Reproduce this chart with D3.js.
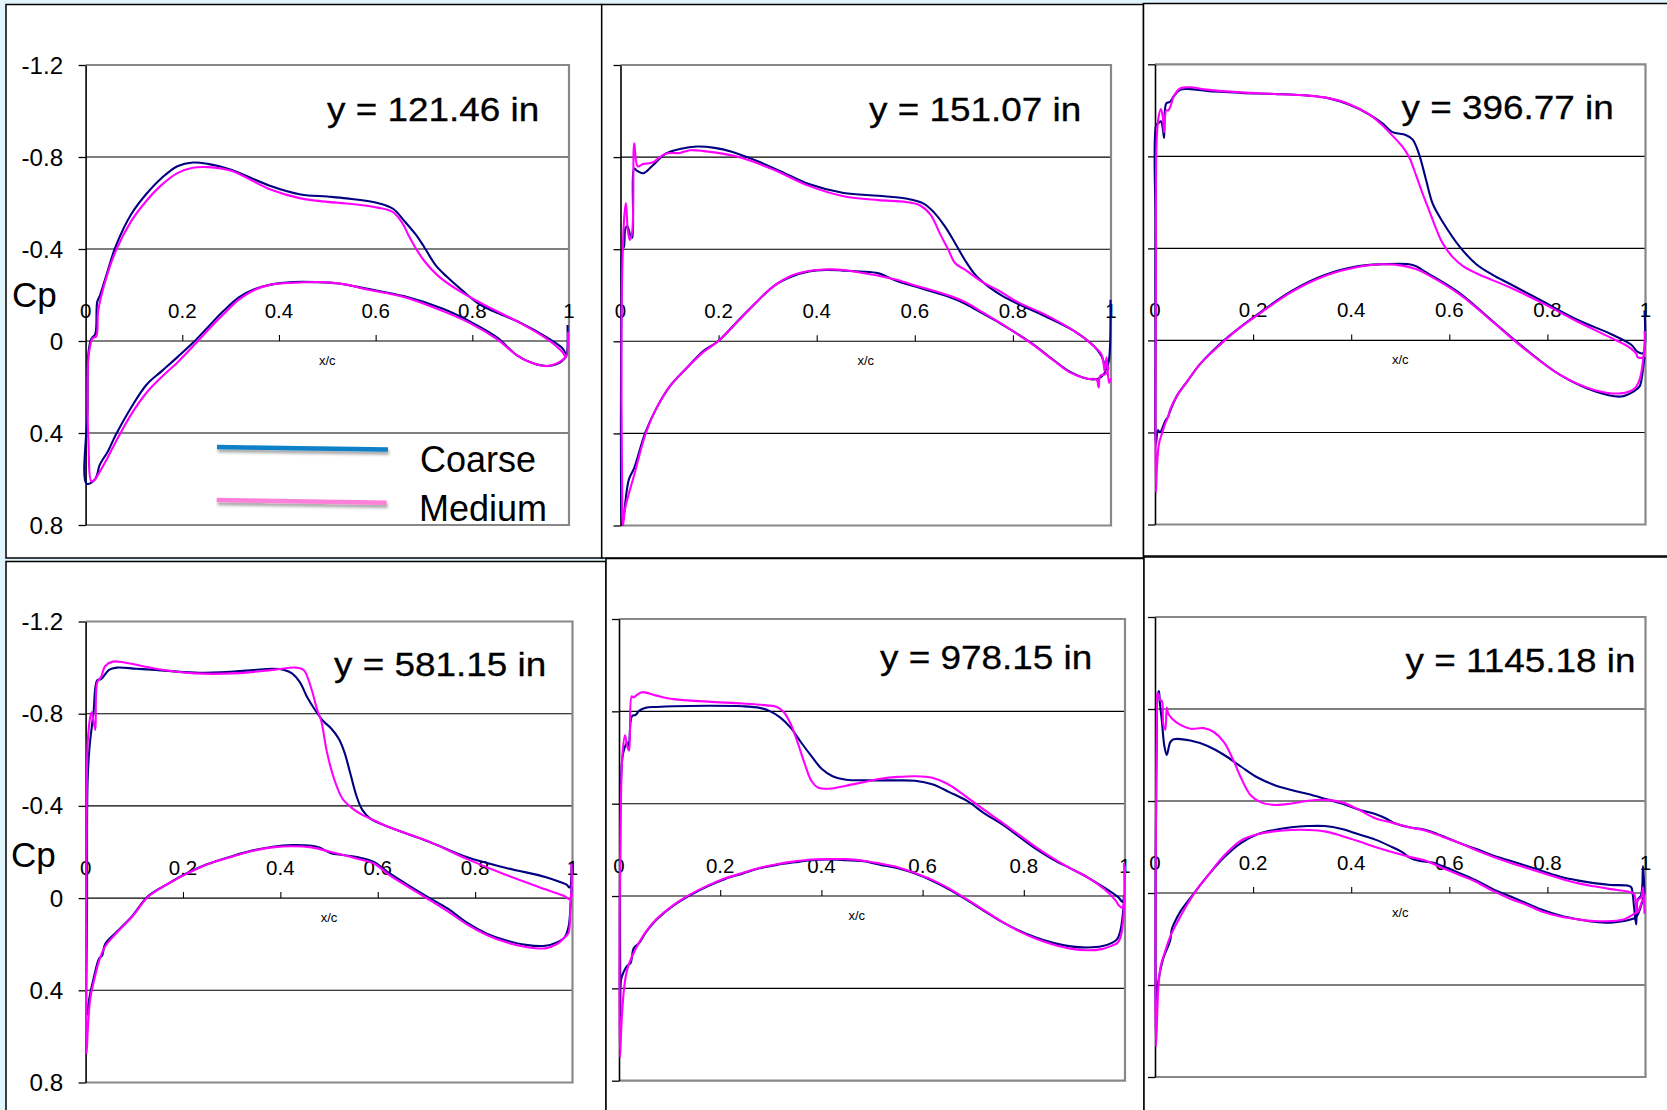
<!DOCTYPE html>
<html><head><meta charset="utf-8">
<script src="https://cdn.jsdelivr.net/npm/d3@7"></script>
<style>
html,body{margin:0;padding:0;background:#e1f4fb;overflow:hidden;}
svg{display:block;}
</style></head><body>
<svg id="chart" width="1667" height="1110"></svg>
<script>
// ---------- DATA ----------
const spanLabels = ["y = 121.46 in","y = 151.07 in","y = 396.77 in","y = 581.15 in","y = 978.15 in","y = 1145.18 in"];
const seriesNames = ["Coarse","Medium"];
const yTickValues = [-1.2,-0.8,-0.4,0,0.4,0.8];
const yTickLabels = ["-1.2","-0.8","-0.4","0","0.4","0.8"];
const xTickValues = [0,0.2,0.4,0.6,0.8,1];
const xTickLabels = ["0","0.2","0.4","0.6","0.8","1"];
const xAxisTitle = "x/c";
const yAxisTitle = "Cp";

// [x/c, Cp] pairs, each surface listed from leading edge to trailing edge
const p1CoarseUpper = [[0.002,0.62],[0.004,0.3],[0.006,0.05],[0.012,-0.01],[0.02,-0.03],[0.024,-0.17],[0.03,-0.2],[0.045,-0.3],[0.062,-0.41],[0.094,-0.55],[0.126,-0.64],[0.158,-0.71],[0.19,-0.76],[0.222,-0.776],[0.253,-0.77],[0.301,-0.745],[0.381,-0.675],[0.445,-0.637],[0.5,-0.628],[0.54,-0.62],[0.604,-0.6],[0.636,-0.575],[0.66,-0.52],[0.684,-0.46],[0.7,-0.41],[0.724,-0.33],[0.747,-0.28],[0.779,-0.22],[0.811,-0.165],[0.843,-0.13],[0.899,-0.08],[0.955,-0.015],[0.986,0.03],[0.994,0.054],[0.997,-0.07]];
const p1CoarseLower = [[0.002,0.62],[0.018,0.605],[0.024,0.58],[0.029,0.54],[0.046,0.48],[0.062,0.41],[0.094,0.29],[0.126,0.19],[0.158,0.13],[0.19,0.07],[0.222,0.008],[0.253,-0.06],[0.285,-0.13],[0.317,-0.19],[0.349,-0.225],[0.381,-0.244],[0.429,-0.256],[0.476,-0.256],[0.524,-0.25],[0.58,-0.228],[0.66,-0.194],[0.739,-0.14],[0.795,-0.085],[0.851,-0.016],[0.891,0.06],[0.923,0.095],[0.955,0.109],[0.975,0.1],[0.99,0.078],[0.996,0.054]];
const p1MediumUpper = [[0.012,0.61],[0.006,0.45],[0.004,0.2],[0.006,0.07],[0.014,-0.01],[0.022,-0.02],[0.026,-0.13],[0.038,-0.24],[0.062,-0.39],[0.094,-0.52],[0.126,-0.61],[0.158,-0.68],[0.19,-0.73],[0.222,-0.753],[0.253,-0.756],[0.301,-0.74],[0.381,-0.66],[0.445,-0.62],[0.5,-0.605],[0.54,-0.598],[0.604,-0.58],[0.636,-0.56],[0.656,-0.51],[0.668,-0.46],[0.684,-0.4],[0.7,-0.35],[0.731,-0.28],[0.779,-0.21],[0.827,-0.155],[0.899,-0.078],[0.955,-0.008],[0.986,0.047],[0.994,0.07],[0.998,-0.04]];
const p1MediumLower = [[0.012,0.61],[0.02,0.6],[0.026,0.58],[0.046,0.505],[0.062,0.44],[0.094,0.32],[0.126,0.225],[0.158,0.155],[0.19,0.093],[0.222,0.023],[0.253,-0.047],[0.285,-0.116],[0.317,-0.18],[0.349,-0.222],[0.381,-0.244],[0.429,-0.253],[0.492,-0.256],[0.54,-0.245],[0.58,-0.225],[0.66,-0.19],[0.739,-0.13],[0.795,-0.078],[0.851,-0.008],[0.891,0.06],[0.923,0.095],[0.955,0.109],[0.979,0.093],[0.994,0.07]];

const p2CoarseUpper = [[0.003,0.8],[0.001,0.6],[0.001,0.2],[0.002,-0.2],[0.004,-0.4],[0.007,-0.41],[0.01,-0.49],[0.014,-0.5],[0.02,-0.46],[0.024,-0.45],[0.028,-0.75],[0.034,-0.74],[0.046,-0.73],[0.064,-0.76],[0.092,-0.815],[0.121,-0.835],[0.156,-0.846],[0.192,-0.84],[0.227,-0.823],[0.277,-0.784],[0.327,-0.738],[0.384,-0.683],[0.455,-0.644],[0.526,-0.632],[0.582,-0.62],[0.618,-0.598],[0.639,-0.56],[0.661,-0.5],[0.682,-0.427],[0.703,-0.35],[0.724,-0.287],[0.753,-0.233],[0.781,-0.194],[0.81,-0.163],[0.866,-0.109],[0.923,-0.047],[0.966,0.023],[0.98,0.062],[0.991,0.116],[0.996,0.08],[0.999,-0.18]];
const p2CoarseLower = [[0.003,0.8],[0.007,0.75],[0.017,0.6],[0.028,0.55],[0.05,0.4],[0.071,0.3],[0.099,0.2],[0.135,0.116],[0.17,0.04],[0.199,0.0],[0.241,-0.093],[0.277,-0.17],[0.3125,-0.24],[0.348,-0.28],[0.384,-0.303],[0.419,-0.31],[0.455,-0.307],[0.49,-0.303],[0.526,-0.295],[0.561,-0.264],[0.597,-0.24],[0.668,-0.194],[0.703,-0.163],[0.739,-0.12],[0.774,-0.078],[0.81,-0.031],[0.838,0.008],[0.881,0.078],[0.916,0.132],[0.952,0.163],[0.973,0.163],[0.984,0.147],[0.991,0.116]];
const p2MediumUpper = [[0.005,0.8],[0.003,0.55],[0.002,0.0],[0.004,-0.35],[0.008,-0.55],[0.011,-0.6],[0.015,-0.48],[0.019,-0.44],[0.024,-0.48],[0.028,-0.86],[0.035,-0.76],[0.046,-0.77],[0.064,-0.775],[0.092,-0.815],[0.121,-0.818],[0.142,-0.83],[0.17,-0.826],[0.241,-0.8],[0.3125,-0.745],[0.384,-0.675],[0.455,-0.63],[0.526,-0.613],[0.582,-0.605],[0.611,-0.59],[0.632,-0.55],[0.653,-0.46],[0.668,-0.4],[0.682,-0.34],[0.703,-0.31],[0.739,-0.256],[0.774,-0.217],[0.81,-0.17],[0.866,-0.116],[0.923,-0.047],[0.966,0.023],[0.98,0.055],[0.984,0.085],[0.987,0.13],[0.991,0.07],[0.996,0.18],[1.0,0.16]];
const p2MediumLower = [[0.005,0.8],[0.01,0.72],[0.028,0.58],[0.05,0.41],[0.071,0.3],[0.099,0.2],[0.135,0.116],[0.17,0.045],[0.199,0.0],[0.241,-0.09],[0.277,-0.17],[0.3125,-0.24],[0.348,-0.285],[0.384,-0.305],[0.419,-0.312],[0.455,-0.31],[0.49,-0.298],[0.526,-0.285],[0.561,-0.268],[0.597,-0.245],[0.668,-0.2],[0.703,-0.17],[0.739,-0.125],[0.774,-0.08],[0.81,-0.03],[0.838,0.01],[0.881,0.08],[0.916,0.135],[0.952,0.163],[0.97,0.165],[0.975,0.2],[0.978,0.15],[0.991,0.14],[0.995,0.11]];

const p3CoarseUpper = [[0.002,0.45],[0.001,0.0],[0.001,-0.5],[0.003,-0.94],[0.007,-0.944],[0.012,-0.952],[0.016,-0.92],[0.0185,-0.88],[0.023,-1.03],[0.031,-1.037],[0.038,-1.06],[0.051,-1.089],[0.072,-1.092],[0.106,-1.084],[0.175,-1.076],[0.243,-1.071],[0.312,-1.064],[0.353,-1.053],[0.394,-1.026],[0.436,-0.983],[0.463,-0.944],[0.484,-0.905],[0.511,-0.893],[0.525,-0.874],[0.538,-0.812],[0.552,-0.703],[0.566,-0.595],[0.586,-0.517],[0.621,-0.408],[0.655,-0.331],[0.689,-0.284],[0.724,-0.245],[0.792,-0.168],[0.861,-0.09],[0.929,-0.028],[0.971,0.019],[0.984,0.05],[0.995,0.055],[0.998,-0.13]];
const p3CoarseLower = [[0.002,0.45],[0.006,0.39],[0.01,0.4],[0.021,0.35],[0.027,0.33],[0.031,0.306],[0.045,0.24],[0.065,0.18],[0.093,0.1],[0.127,0.026],[0.161,-0.036],[0.209,-0.113],[0.278,-0.214],[0.346,-0.284],[0.415,-0.323],[0.463,-0.331],[0.518,-0.331],[0.532,-0.323],[0.552,-0.297],[0.621,-0.206],[0.689,-0.082],[0.758,0.042],[0.826,0.15],[0.895,0.22],[0.95,0.244],[0.977,0.22],[0.988,0.2],[0.991,0.18],[0.998,0.07]];
const p3MediumUpper = [[0.002,0.66],[0.001,0.3],[0.002,-0.3],[0.003,-0.85],[0.007,-0.967],[0.012,-1.006],[0.016,-0.97],[0.0185,-0.905],[0.023,-1.0],[0.027,-1.0],[0.032,-1.02],[0.038,-1.06],[0.051,-1.095],[0.072,-1.1],[0.106,-1.09],[0.175,-1.078],[0.243,-1.071],[0.312,-1.064],[0.353,-1.053],[0.394,-1.029],[0.436,-0.983],[0.463,-0.936],[0.484,-0.89],[0.504,-0.843],[0.518,-0.797],[0.532,-0.719],[0.545,-0.641],[0.559,-0.564],[0.573,-0.486],[0.586,-0.424],[0.607,-0.362],[0.628,-0.323],[0.655,-0.292],[0.689,-0.261],[0.724,-0.23],[0.792,-0.16],[0.861,-0.082],[0.929,-0.012],[0.964,0.026],[0.981,0.057],[0.984,0.073],[0.995,0.073],[0.998,-0.04]];
const p3MediumLower = [[0.002,0.66],[0.004,0.55],[0.008,0.45],[0.015,0.4],[0.021,0.36],[0.027,0.33],[0.031,0.3],[0.045,0.24],[0.065,0.18],[0.093,0.1],[0.127,0.03],[0.161,-0.035],[0.209,-0.11],[0.278,-0.21],[0.346,-0.28],[0.415,-0.32],[0.463,-0.331],[0.504,-0.325],[0.532,-0.31],[0.552,-0.29],[0.621,-0.2],[0.689,-0.08],[0.758,0.045],[0.826,0.15],[0.895,0.215],[0.95,0.23],[0.977,0.21],[0.988,0.17],[0.996,0.07],[0.999,-0.04]];

const p4CoarseUpper = [[0.003,0.507],[0.003,0.0],[0.004,-0.5],[0.008,-0.653],[0.016,-0.8],[0.024,-0.945],[0.032,-0.95],[0.048,-0.99],[0.064,-1.0],[0.104,-0.995],[0.144,-0.99],[0.224,-0.978],[0.304,-0.983],[0.344,-0.989],[0.384,-0.995],[0.408,-0.99],[0.424,-0.975],[0.44,-0.937],[0.456,-0.868],[0.472,-0.814],[0.488,-0.768],[0.504,-0.737],[0.52,-0.691],[0.532,-0.63],[0.544,-0.538],[0.556,-0.445],[0.568,-0.384],[0.584,-0.346],[0.624,-0.307],[0.704,-0.246],[0.784,-0.177],[0.864,-0.131],[0.944,-0.092],[0.976,-0.069],[0.988,-0.058],[0.994,-0.046],[0.998,-0.154]];
const p4CoarseLower = [[0.003,0.507],[0.008,0.43],[0.016,0.353],[0.028,0.261],[0.034,0.25],[0.04,0.2],[0.064,0.146],[0.096,0.077],[0.128,-0.008],[0.168,-0.061],[0.208,-0.108],[0.248,-0.146],[0.304,-0.184],[0.344,-0.207],[0.384,-0.223],[0.424,-0.23],[0.464,-0.227],[0.48,-0.22],[0.504,-0.195],[0.528,-0.187],[0.56,-0.177],[0.592,-0.157],[0.624,-0.108],[0.664,-0.054],[0.704,-0.003],[0.744,0.046],[0.784,0.108],[0.824,0.154],[0.864,0.184],[0.904,0.203],[0.944,0.207],[0.968,0.192],[0.984,0.169],[0.992,0.123],[0.996,0.03],[0.998,-0.05]];
const p4MediumUpper = [[0.002,0.676],[0.001,0.3],[0.002,-0.3],[0.005,-0.7],[0.012,-0.806],[0.016,-0.77],[0.02,-0.73],[0.024,-0.937],[0.032,-0.96],[0.04,-1.006],[0.056,-1.026],[0.08,-1.022],[0.144,-0.995],[0.224,-0.975],[0.304,-0.975],[0.384,-0.99],[0.432,-1.0],[0.448,-0.99],[0.464,-0.906],[0.476,-0.814],[0.484,-0.768],[0.496,-0.63],[0.512,-0.507],[0.528,-0.43],[0.544,-0.396],[0.568,-0.361],[0.592,-0.338],[0.624,-0.307],[0.704,-0.246],[0.784,-0.169],[0.864,-0.1],[0.944,-0.038],[0.984,-0.008],[0.994,0.005],[0.998,-0.15]];
const p4MediumLower = [[0.002,0.676],[0.005,0.55],[0.01,0.43],[0.016,0.37],[0.028,0.27],[0.04,0.21],[0.064,0.15],[0.096,0.08],[0.128,-0.005],[0.168,-0.06],[0.208,-0.106],[0.248,-0.145],[0.304,-0.182],[0.344,-0.205],[0.384,-0.22],[0.424,-0.225],[0.464,-0.22],[0.504,-0.2],[0.56,-0.17],[0.592,-0.15],[0.624,-0.1],[0.664,-0.047],[0.704,0.005],[0.744,0.058],[0.784,0.115],[0.824,0.16],[0.864,0.192],[0.904,0.212],[0.944,0.218],[0.968,0.2],[0.984,0.17],[0.992,0.15],[0.996,0.02],[0.999,-0.02]];

const p5CoarseUpper = [[0.003,0.533],[0.002,0.0],[0.004,-0.5],[0.007,-0.604],[0.011,-0.642],[0.016,-0.665],[0.019,-0.65],[0.023,-0.757],[0.026,-0.78],[0.033,-0.785],[0.04,-0.803],[0.053,-0.816],[0.074,-0.819],[0.108,-0.822],[0.176,-0.824],[0.244,-0.822],[0.278,-0.815],[0.299,-0.8],[0.319,-0.773],[0.34,-0.727],[0.36,-0.665],[0.381,-0.604],[0.401,-0.55],[0.422,-0.519],[0.449,-0.504],[0.483,-0.501],[0.551,-0.501],[0.585,-0.499],[0.619,-0.484],[0.653,-0.45],[0.688,-0.412],[0.722,-0.358],[0.756,-0.312],[0.79,-0.258],[0.824,-0.204],[0.858,-0.158],[0.892,-0.12],[0.926,-0.081],[0.96,-0.035],[0.988,0.008],[0.995,0.026],[0.998,-0.005]];
const p5CoarseLower = [[0.003,0.533],[0.004,0.364],[0.009,0.33],[0.016,0.303],[0.023,0.29],[0.026,0.257],[0.029,0.226],[0.04,0.203],[0.053,0.157],[0.074,0.103],[0.108,0.041],[0.142,-0.005],[0.176,-0.043],[0.21,-0.074],[0.244,-0.097],[0.278,-0.12],[0.312,-0.135],[0.347,-0.146],[0.381,-0.155],[0.415,-0.158],[0.449,-0.155],[0.483,-0.151],[0.517,-0.135],[0.551,-0.12],[0.585,-0.097],[0.619,-0.066],[0.653,-0.028],[0.688,0.018],[0.722,0.065],[0.756,0.111],[0.79,0.149],[0.824,0.18],[0.858,0.203],[0.892,0.218],[0.926,0.223],[0.954,0.218],[0.974,0.203],[0.984,0.188],[0.991,0.149],[0.998,0.026]];
const p5MediumUpper = [[0.002,0.7],[0.001,0.3],[0.003,-0.3],[0.007,-0.62],[0.012,-0.696],[0.016,-0.65],[0.02,-0.63],[0.025,-0.865],[0.029,-0.86],[0.036,-0.872],[0.046,-0.883],[0.074,-0.868],[0.108,-0.853],[0.176,-0.842],[0.244,-0.834],[0.292,-0.826],[0.312,-0.819],[0.326,-0.796],[0.34,-0.742],[0.353,-0.665],[0.367,-0.573],[0.381,-0.496],[0.394,-0.469],[0.415,-0.465],[0.449,-0.478],[0.483,-0.493],[0.517,-0.508],[0.551,-0.516],[0.585,-0.519],[0.619,-0.512],[0.653,-0.481],[0.688,-0.427],[0.722,-0.373],[0.756,-0.32],[0.79,-0.266],[0.824,-0.212],[0.858,-0.163],[0.892,-0.12],[0.926,-0.081],[0.96,-0.028],[0.981,0.018],[0.988,0.041],[0.995,0.05],[0.998,-0.143]];
const p5MediumLower = [[0.002,0.7],[0.005,0.55],[0.01,0.4],[0.016,0.32],[0.026,0.26],[0.04,0.2],[0.053,0.155],[0.074,0.1],[0.108,0.038],[0.142,-0.008],[0.176,-0.046],[0.21,-0.077],[0.244,-0.1],[0.278,-0.122],[0.312,-0.138],[0.347,-0.15],[0.381,-0.158],[0.415,-0.16],[0.449,-0.16],[0.483,-0.153],[0.517,-0.14],[0.551,-0.125],[0.585,-0.1],[0.619,-0.07],[0.653,-0.032],[0.688,0.015],[0.722,0.062],[0.756,0.11],[0.79,0.152],[0.824,0.185],[0.858,0.21],[0.892,0.228],[0.926,0.235],[0.954,0.23],[0.974,0.215],[0.984,0.205],[0.991,0.18],[0.998,0.06],[1.0,-0.13]];

const p6CoarseUpper = [[0.002,0.6],[0.001,0.3],[0.002,-0.3],[0.004,-0.8],[0.005,-0.855],[0.008,-0.878],[0.01,-0.825],[0.014,-0.748],[0.019,-0.64],[0.024,-0.6],[0.031,-0.655],[0.038,-0.668],[0.072,-0.663],[0.106,-0.64],[0.141,-0.6],[0.175,-0.55],[0.209,-0.502],[0.243,-0.47],[0.278,-0.448],[0.312,-0.43],[0.346,-0.41],[0.381,-0.389],[0.415,-0.363],[0.449,-0.343],[0.47,-0.325],[0.49,-0.302],[0.518,-0.286],[0.552,-0.274],[0.586,-0.248],[0.621,-0.217],[0.655,-0.191],[0.689,-0.163],[0.724,-0.14],[0.758,-0.117],[0.792,-0.094],[0.826,-0.071],[0.861,-0.055],[0.895,-0.043],[0.929,-0.035],[0.964,-0.032],[0.971,-0.025],[0.974,0.006],[0.977,0.068],[0.981,0.137],[0.984,0.03],[0.991,0.01],[0.995,-0.117],[0.998,0.0]];
const p6CoarseLower = [[0.002,0.6],[0.003,0.45],[0.01,0.345],[0.017,0.283],[0.024,0.245],[0.031,0.206],[0.034,0.16],[0.038,0.137],[0.051,0.083],[0.072,0.022],[0.106,-0.071],[0.141,-0.155],[0.175,-0.217],[0.209,-0.255],[0.243,-0.274],[0.278,-0.286],[0.312,-0.291],[0.346,-0.291],[0.381,-0.278],[0.415,-0.255],[0.449,-0.232],[0.483,-0.2],[0.504,-0.178],[0.518,-0.155],[0.538,-0.14],[0.566,-0.132],[0.586,-0.117],[0.621,-0.086],[0.655,-0.055],[0.689,-0.017],[0.724,0.014],[0.758,0.045],[0.792,0.075],[0.826,0.098],[0.861,0.114],[0.895,0.125],[0.929,0.129],[0.957,0.122],[0.971,0.114],[0.981,0.105],[0.998,0.0]];
const p6MediumUpper = [[0.002,0.668],[0.001,0.3],[0.002,-0.3],[0.004,-0.8],[0.005,-0.87],[0.008,-0.86],[0.01,-0.84],[0.014,-0.835],[0.017,-0.732],[0.021,-0.71],[0.024,-0.806],[0.027,-0.78],[0.034,-0.76],[0.051,-0.732],[0.072,-0.714],[0.099,-0.717],[0.12,-0.7],[0.141,-0.655],[0.161,-0.571],[0.175,-0.502],[0.195,-0.425],[0.216,-0.394],[0.243,-0.383],[0.278,-0.389],[0.312,-0.401],[0.346,-0.405],[0.381,-0.394],[0.415,-0.363],[0.449,-0.325],[0.483,-0.306],[0.518,-0.286],[0.552,-0.271],[0.586,-0.245],[0.621,-0.217],[0.655,-0.186],[0.689,-0.158],[0.724,-0.132],[0.758,-0.109],[0.792,-0.086],[0.826,-0.063],[0.861,-0.043],[0.895,-0.029],[0.929,-0.017],[0.964,-0.006],[0.977,0.006],[0.981,0.083],[0.984,0.03],[0.991,0.02],[0.995,-0.025],[0.998,0.083]];
const p6MediumLower = [[0.002,0.668],[0.007,0.406],[0.012,0.314],[0.021,0.252],[0.031,0.19],[0.045,0.129],[0.065,0.052],[0.086,-0.017],[0.106,-0.071],[0.141,-0.163],[0.175,-0.228],[0.209,-0.255],[0.243,-0.268],[0.278,-0.274],[0.312,-0.274],[0.346,-0.268],[0.381,-0.248],[0.415,-0.225],[0.449,-0.2],[0.483,-0.178],[0.518,-0.158],[0.552,-0.14],[0.586,-0.109],[0.621,-0.078],[0.655,-0.048],[0.689,-0.009],[0.724,0.025],[0.758,0.052],[0.792,0.083],[0.826,0.102],[0.861,0.114],[0.895,0.122],[0.929,0.122],[0.957,0.114],[0.977,0.091],[0.984,0.083],[0.995,0.029],[0.998,0.09]];

// ---------- LAYOUT (positions only) ----------
const panelData = [
  [[p1CoarseUpper,p1CoarseLower],[p1MediumUpper,p1MediumLower]],
  [[p2CoarseUpper,p2CoarseLower],[p2MediumUpper,p2MediumLower]],
  [[p3CoarseUpper,p3CoarseLower],[p3MediumUpper,p3MediumLower]],
  [[p4CoarseUpper,p4CoarseLower],[p4MediumUpper,p4MediumLower]],
  [[p5CoarseUpper,p5CoarseLower],[p5MediumUpper,p5MediumLower]],
  [[p6CoarseUpper,p6CoarseLower],[p6MediumUpper,p6MediumLower]]
];
const layout = [
  {frame:[6,4.5,601.7,558],    plot:[85.6,569,65,525],      title:[327,120.5],  showY:true, cp:[12,307], xc:0.5,  legend:true},
  {frame:[601.7,4.5,1143.5,558],plot:[620.5,1111,65,525.5],  title:[869,120.5],  xc:0.5},
  {frame:[1143.5,3.5,1675,556], plot:[1155,1645.5,64.3,524.5],title:[1401.5,119], xc:0.5},
  {frame:[6,561.5,606,1118],    plot:[85.6,572.5,621.5,1082.5],title:[334,676.4], showY:true, cp:[11,867], xc:0.5},
  {frame:[606,558.5,1144,1118], plot:[619,1125,619,1080.7],  title:[880,668.6],  xc:0.47},
  {frame:[1144,557,1675,1118],  plot:[1155,1645.5,617,1077], title:[1405.5,672], xc:0.5}
];
const colors = ["#000080","#ff00ff"];
const legendColors = ["#0a80c8","#ff80d8"];
const FONT = "'Liberation Sans', Arial, Helvetica, sans-serif";

// ---------- DRAW ----------
const svg = d3.select("#chart");
const defs = svg.append("defs");
const f = defs.append("filter").attr("id","lgShadow").attr("x","-10%").attr("y","-300%").attr("width","120%").attr("height","700%");
f.append("feDropShadow").attr("dx",1).attr("dy",3).attr("stdDeviation",1.6).attr("flood-color","#000").attr("flood-opacity",0.35);

function sText(g, x, y, txt, size, sx, anchor, sw){
  const t = g.append("text")
    .attr("transform",`translate(${x},${y}) scale(${sx},1)`)
    .attr("text-anchor",anchor||"start")
    .style("font-family",FONT).style("font-size",size+"px").attr("fill","#000")
    .text(txt);
  if (sw) t.attr("stroke","#000").attr("stroke-width",sw);
  return t;
}

layout.forEach((L,i)=>{
  const g = svg.append("g");
  const [fx0,fy0,fx1,fy1] = L.frame;
  g.append("rect").attr("x",fx0).attr("y",fy0).attr("width",fx1-fx0).attr("height",fy1-fy0)
    .attr("fill","#fff").attr("stroke","#000").attr("stroke-width",1.5);

  const x = d3.scaleLinear().domain([0,1]).range([L.plot[0],L.plot[1]]);
  const y = d3.scaleLinear().domain([-1.2,0.8]).range([L.plot[2],L.plot[3]]);

  // horizontal gridlines
  g.selectAll("line.grid").data(yTickValues.slice(1,-1)).join("line").attr("class","grid")
    .attr("x1",x(0)).attr("x2",x(1)).attr("y1",d=>y(d)).attr("y2",d=>y(d))
    .attr("stroke","#000").attr("stroke-width",1.1);

  // plot area border (gray)
  g.append("path").attr("d",`M${x(0)},${y(-1.2)}H${x(1)}V${y(0.8)}H${x(0)}`)
    .attr("fill","none").attr("stroke","#888").attr("stroke-width",2.2);

  // y axis
  const ya = g.append("g").attr("transform",`translate(${x(0)},0)`)
    .call(d3.axisLeft(y).tickValues(yTickValues).tickSize(7).tickSizeOuter(0).tickFormat(""));
  ya.select(".domain").attr("stroke","#000").attr("stroke-width",1.6);
  ya.selectAll(".tick line").attr("stroke","#000").attr("stroke-width",1.3);

  // x axis ticks on Cp = 0
  const xa = g.append("g").attr("transform",`translate(0,${y(0)})`)
    .call(d3.axisTop(x).tickValues(xTickValues.slice(1,-1)).tickSize(6).tickSizeOuter(0).tickFormat(""));
  xa.select(".domain").remove();
  xa.selectAll(".tick line").attr("stroke","#000").attr("stroke-width",1.1);

  // x tick labels
  xTickValues.forEach((v,j)=>{ sText(g, x(v), y(0)-23, xTickLabels[j], 20.5, 1.0, "middle"); });
  sText(g, x(L.xc), y(0)+24, xAxisTitle, 13, 1.0, "middle");

  // y tick labels
  if (L.showY){
    yTickValues.forEach((v,j)=>{ sText(g, x(0)-22.5, y(v)+8.5, yTickLabels[j], 23, 1.05, "end"); });
    sText(g, L.cp[0], L.cp[1], yAxisTitle, 35, 1.0, "start");
  }

  // title
  sText(g, L.title[0], L.title[1], spanLabels[i], 34, 1.085, "start", 0.3);

  // curves
  const clipId = "clip"+i;
  defs.append("clipPath").attr("id",clipId).append("rect")
    .attr("x",x(0)-3).attr("y",y(-1.2)-3).attr("width",x(1)-x(0)+6).attr("height",y(0.8)-y(-1.2)+4);
  const line = d3.line().x(d=>x(d[0])).y(d=>y(d[1])).curve(d3.curveCatmullRom.alpha(0.5));
  panelData[i].forEach((s,k)=>{
    const pts = s[0].slice().reverse().concat(s[1].slice(1));
    g.append("path").attr("d",line(pts)).attr("fill","none")
      .attr("stroke",colors[k]).attr("stroke-width",2.1).attr("stroke-linejoin","round")
      .attr("clip-path",`url(#${clipId})`);
  });

  // legend
  if (L.legend){
    const lg = g.append("g");
    const items = [
      {x1:217,y1:447,x2:388,y2:449.5,tx:420,ty:472},
      {x1:216.7,y1:500,x2:386.7,y2:502.7,tx:419,ty:521}
    ];
    items.forEach((it,k)=>{
      lg.append("line").attr("x1",it.x1).attr("y1",it.y1).attr("x2",it.x2).attr("y2",it.y2)
        .attr("stroke",legendColors[k]).attr("stroke-width",4.5).attr("filter","url(#lgShadow)");
      sText(lg, it.tx, it.ty, seriesNames[k], 36, 1.0, "start");
    });
  }
});
</script>
</body></html>
